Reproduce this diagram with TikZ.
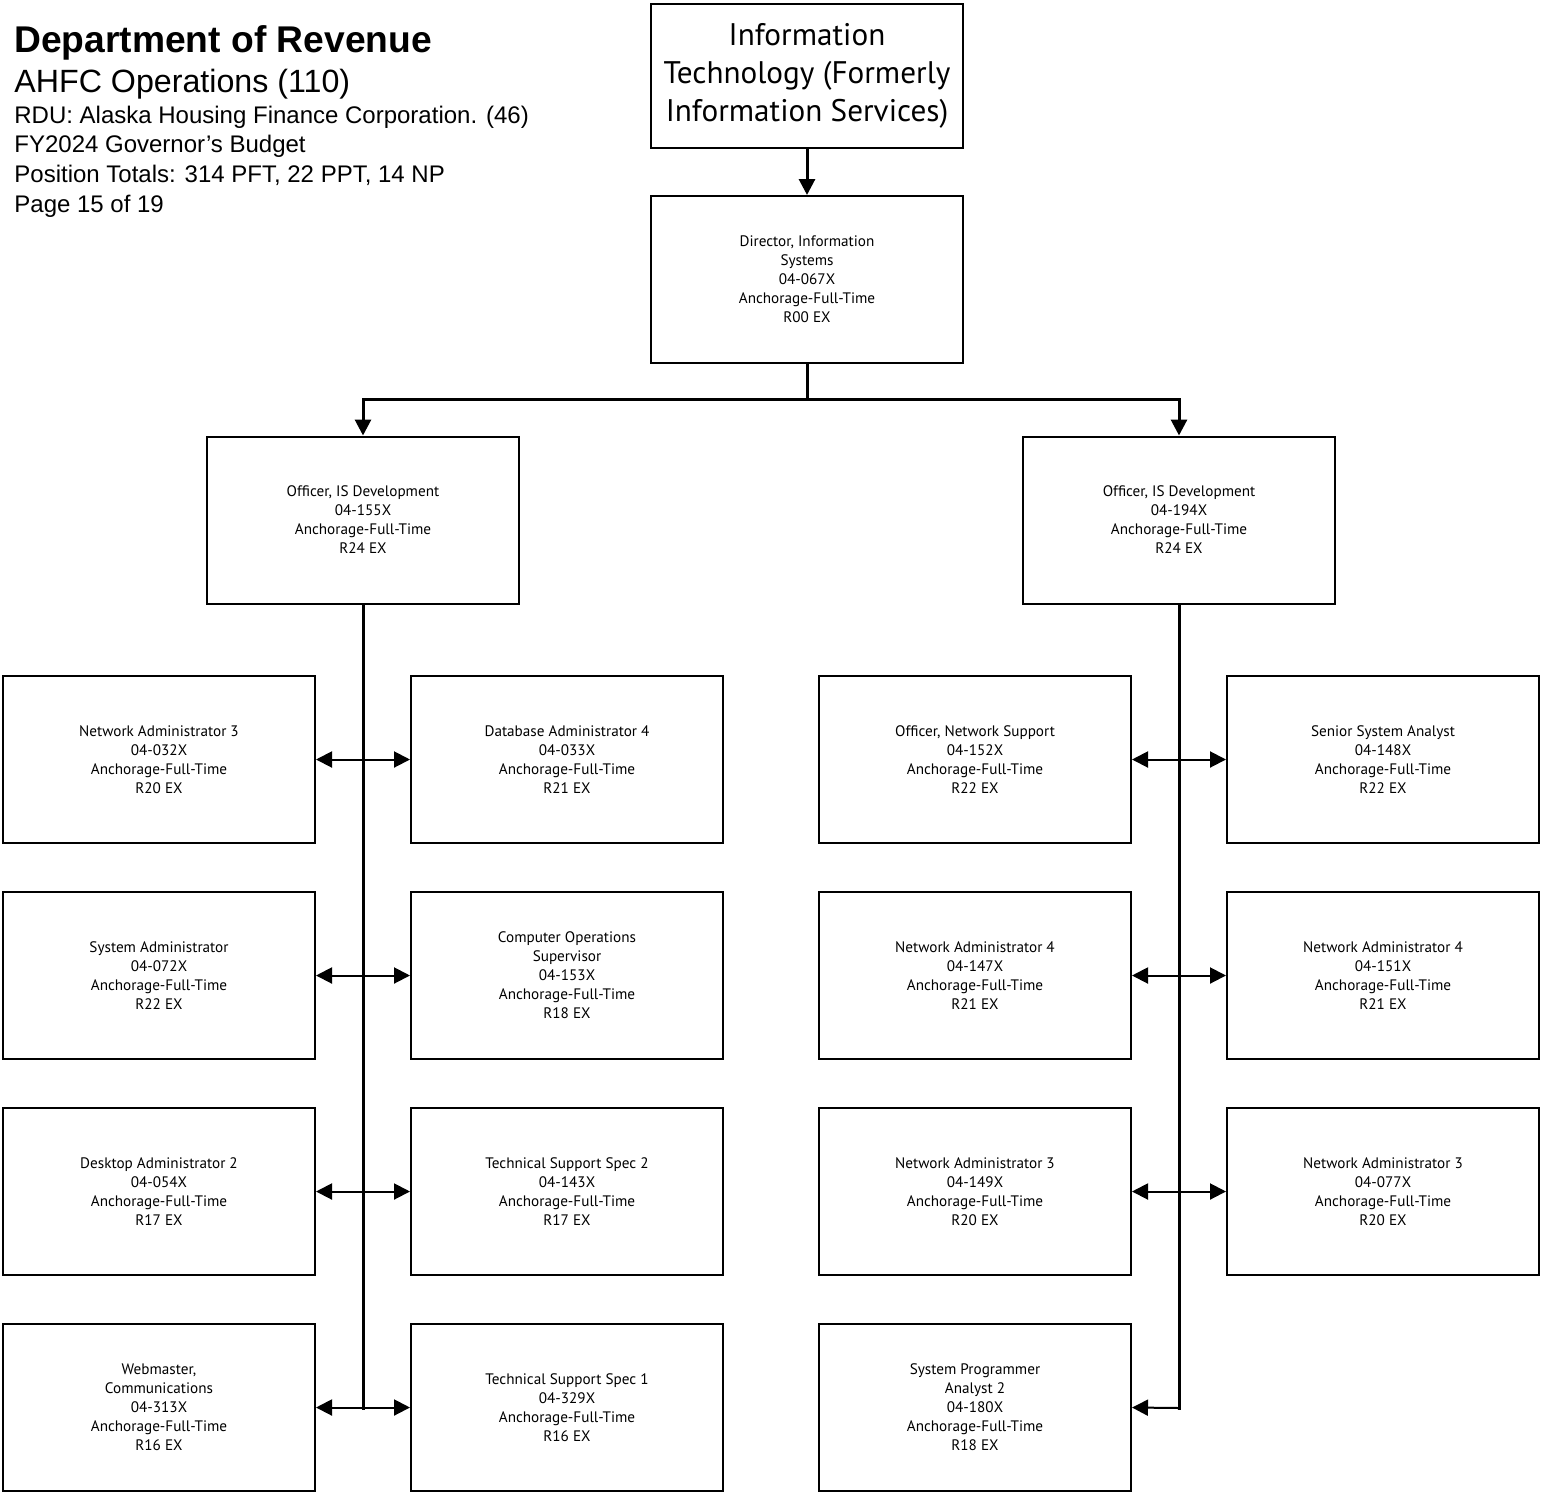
\documentclass[tikz,border=0pt]{standalone}
\usepackage{fontspec}
\setmainfont{Liberation Sans}
\newfontfamily\boxfam{PT Sans}
\usetikzlibrary{arrows.meta}
\begin{document}
\begin{tikzpicture}[x=0.5pt,y=-0.5pt,
  box/.style={draw, line width=1pt, minimum width=156pt, minimum height=83.5pt, inner sep=0pt, align=center, font=\boxfam\fontsize{7.6}{9.5}\selectfont},
  topbox/.style={draw, line width=1pt, minimum width=156pt, minimum height=72pt, inner sep=0pt, align=center, font=\boxfam\fontsize{15.6}{19}\selectfont},
  trunk/.style={line width=1.5pt},
  harr/.style={line width=1pt},
  tip/.tip={Triangle[length=8pt,width=8pt]},
  hdr/.style={anchor=base west, inner sep=0pt}]
\useasboundingbox (0,0) rectangle (1541,1493);
% header
\node[hdr, font=\bfseries\fontsize{18.6}{22}\selectfont] (h1) at (14,53) {Department of Revenue};
\node[hdr, font=\fontsize{16.1}{18}\selectfont] (h2) at (14,93) {AHFC Operations (110)};
\node[hdr, font=\fontsize{12}{13}\selectfont] (h3) at (14,124) {RDU: Alaska Housing Finance Corporation. (46)};
\node[hdr, font=\fontsize{12}{13}\selectfont] (h4) at (14,153) {FY2024 Governor’s Budget};
\node[hdr, font=\fontsize{12}{13}\selectfont] (h5) at (14,182) {Position Totals: 314 PFT, 22 PPT, 14 NP};
\node[hdr, font=\fontsize{12}{13}\selectfont] (h6) at (14,212) {Page 15 of 19};
% top
\node[topbox] (top) at (807,76) {Information\\Technology (Formerly\\Information Services)};
\node[box] (dir) at (807,279.5) {Director, Information\\Systems\\04-067X\\Anchorage-Full-Time\\R00 EX};
\node[box] (offL) at (363,520) {Officer, IS Development\\04-155X\\Anchorage-Full-Time\\R24 EX};
\node[box] (offR) at (1179,520) {Officer, IS Development\\04-194X\\Anchorage-Full-Time\\R24 EX};
% left group
\node[box] (a1) at (159,759.5) {Network Administrator 3\\04-032X\\Anchorage-Full-Time\\R20 EX};
\node[box] (b1) at (567,759.5) {Database Administrator 4\\04-033X\\Anchorage-Full-Time\\R21 EX};
\node[box] (a2) at (159,975.5) {System Administrator\\04-072X\\Anchorage-Full-Time\\R22 EX};
\node[box] (b2) at (567,975.5) {Computer Operations\\Supervisor\\04-153X\\Anchorage-Full-Time\\R18 EX};
\node[box] (a3) at (159,1191.5) {Desktop Administrator 2\\04-054X\\Anchorage-Full-Time\\R17 EX};
\node[box] (b3) at (567,1191.5) {Technical Support Spec 2\\04-143X\\Anchorage-Full-Time\\R17 EX};
\node[box] (a4) at (159,1407.5) {Webmaster,\\Communications\\04-313X\\Anchorage-Full-Time\\R16 EX};
\node[box] (b4) at (567,1407.5) {Technical Support Spec 1\\04-329X\\Anchorage-Full-Time\\R16 EX};
% right group
\node[box] (c1) at (975,759.5) {Officer, Network Support\\04-152X\\Anchorage-Full-Time\\R22 EX};
\node[box] (d1) at (1383,759.5) {Senior System Analyst\\04-148X\\Anchorage-Full-Time\\R22 EX};
\node[box] (c2) at (975,975.5) {Network Administrator 4\\04-147X\\Anchorage-Full-Time\\R21 EX};
\node[box] (d2) at (1383,975.5) {Network Administrator 4\\04-151X\\Anchorage-Full-Time\\R21 EX};
\node[box] (c3) at (975,1191.5) {Network Administrator 3\\04-149X\\Anchorage-Full-Time\\R20 EX};
\node[box] (d3) at (1383,1191.5) {Network Administrator 3\\04-077X\\Anchorage-Full-Time\\R20 EX};
\node[box] (c4) at (975,1407.5) {System Programmer\\Analyst 2\\04-180X\\Anchorage-Full-Time\\R18 EX};
% connectors
\draw[trunk,-tip] (top.south) -- (dir.north);
\coordinate (bus) at (807,399);
\draw[trunk] (dir.south) -- (bus);
\draw[trunk,-tip] (bus) -| (offL.north);
\draw[trunk,-tip] (bus) -| (offR.north);
\coordinate (lend) at (363,1408);
\coordinate (rend) at (1179,1408);
\draw[trunk,line cap=rect] (offL.south) -- (lend);
\draw[trunk,line cap=rect] (offR.south) -- (rend);
\foreach \i in {1,2,3,4} {
  \draw[harr,tip-tip] (a\i.east) -- (b\i.west);
}
\foreach \i in {1,2,3} {
  \draw[harr,tip-tip] (c\i.east) -- (d\i.west);
}
\draw[harr,-tip] (rend) -- (c4.east);
\end{tikzpicture}
\end{document}
